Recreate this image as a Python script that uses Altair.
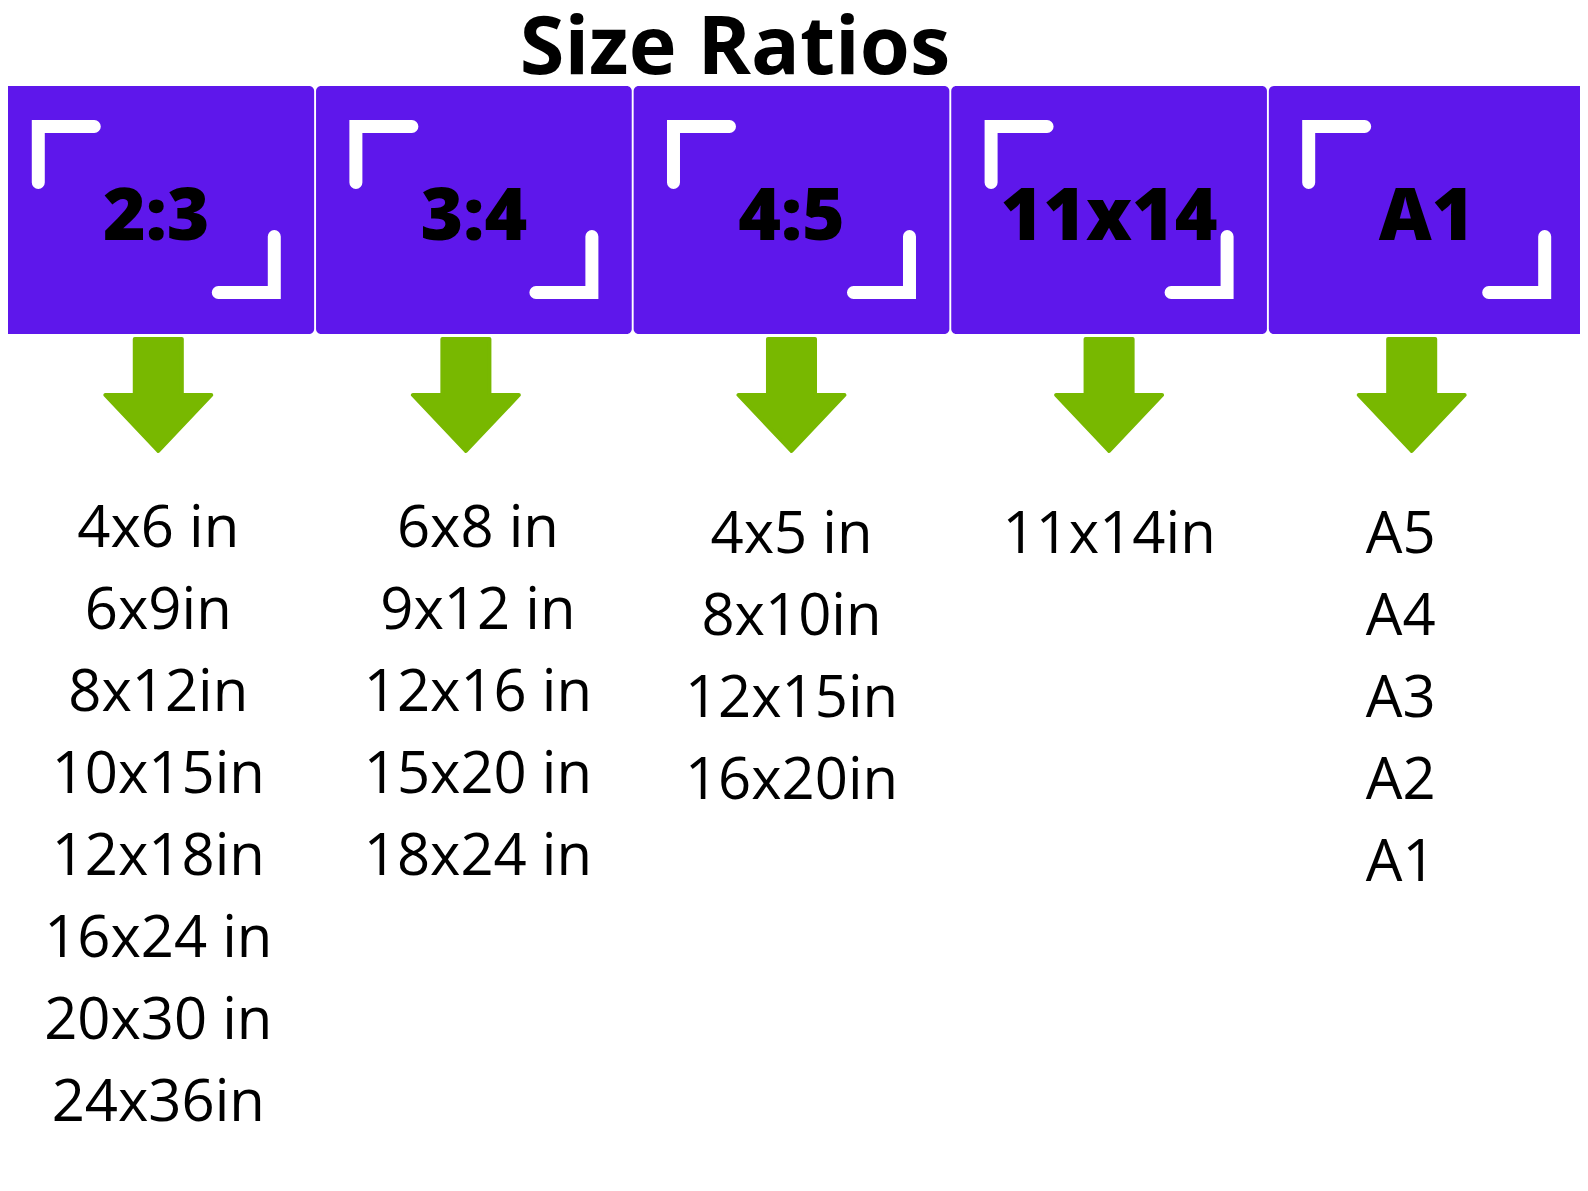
import pandas as pd
import altair as alt

# Header ratios, one per column
ratios = ["2:3", "3:4", "4:5", "11x14", "A1"]

# Print sizes listed under each ratio
sizes_2_3 = ["4x6 in", "6x9in", "8x12in", "10x15in", "12x18in", "16x24 in", "20x30 in", "24x36in"]
sizes_3_4 = ["6x8 in", "9x12 in", "12x16 in", "15x20 in", "18x24 in"]
sizes_4_5 = ["4x5 in", "8x10in", "12x15in", "16x20in"]
sizes_11_14 = ["11x14in"]
sizes_a = ["A5", "A4", "A3", "A2", "A1"]

title_text = "Size Ratios"

columns = [sizes_2_3, sizes_3_4, sizes_4_5, sizes_11_14, sizes_a]

header_df = pd.DataFrame({"col": range(len(ratios)), "ratio": ratios})
header_df["x0"] = header_df["col"] - 0.497
header_df["x1"] = header_df["col"] + 0.497

rows = []
for c, items in enumerate(columns):
    for r, label in enumerate(items):
        rows.append({"col": c, "row": r, "label": label})
sizes_df = pd.DataFrame(rows)

W, H = 1572, 1160
PURPLE = "#5E17EB"
GREEN = "#78B800"
FONT = "Open Sans"

# one column = 317.6 px, first column centred ~148 px into the plot
x_scale = alt.Scale(domain=[-0.4669, 4.4827], nice=False, zero=False)
y_scale = alt.Scale(domain=[-539 / 82, (H - 539) / 82], nice=False, zero=False, reverse=True)

# little per-column nudges seen in the original layout (pixels)
list_nudge = {0: (2, 0), 1: (4, 0), 2: (0, 6), 3: (0, 6), 4: (-26, 6)}
arrow_nudge = {0: 2, 1: -8, 2: 0, 3: 0, 4: -15}

base_h = alt.Chart(header_df)

boxes = base_h.mark_rect(color=PURPLE, cornerRadius=5).encode(
    x=alt.X("x0:Q", scale=x_scale, axis=None),
    x2="x1:Q",
    y=alt.value(78),
    y2=alt.value(326),
)

tl_shape = "M -1 1 L -1 -1 L 1 -1"
br_shape = "M -1 1 L 1 1 L 1 -1"
bracket_style = dict(filled=False, stroke="white", strokeWidth=13, strokeCap="round",
                     strokeJoin="miter", opacity=1, size=3136)

tl = base_h.mark_point(shape=tl_shape, xOffset=-90, **bracket_style).encode(
    x=alt.X("col:Q", scale=x_scale, axis=None), y=alt.value(146.5)
)
br = base_h.mark_point(shape=br_shape, xOffset=90, **bracket_style).encode(
    x=alt.X("col:Q", scale=x_scale, axis=None), y=alt.value(256.5)
)

header_text = base_h.mark_text(
    font=FONT, fontSize=73, fontWeight=800, color="black", baseline="alphabetic", align="center"
).encode(
    x=alt.X("col:Q", scale=x_scale, axis=None),
    y=alt.value(232),
    text="ratio:N",
)

arrow_shape = "M -0.42 -1 L 0.42 -1 L 0.42 0 L 0.946 0 L 0 1 L -0.946 0 L -0.42 0 Z"
arrows = []
for c, off in arrow_nudge.items():
    arrows.append(
        base_h.transform_filter(alt.datum.col == c).mark_point(
            shape=arrow_shape, filled=True, color=GREEN, stroke=GREEN, strokeWidth=4,
            strokeJoin="round", opacity=1, size=12544, xOffset=off
        ).encode(x=alt.X("col:Q", scale=x_scale, axis=None), y=alt.value(387))
    )

lists = []
for c, (ddx, ddy) in list_nudge.items():
    lists.append(
        alt.Chart(sizes_df).transform_filter(alt.datum.col == c).mark_text(
            font=FONT, fontSize=58, fontWeight=400, color="black",
            baseline="alphabetic", align="center", dx=ddx, dy=ddy
        ).encode(
            x=alt.X("col:Q", scale=x_scale, axis=None),
            y=alt.Y("row:Q", scale=y_scale, axis=None),
            text="label:N",
        )
    )

title = alt.Chart(pd.DataFrame({"t": [title_text]})).mark_text(
    font=FONT, fontSize=81, fontWeight="bold", color="black", baseline="alphabetic", align="center"
).encode(x=alt.value(727), y=alt.value(66), text="t:N")

chart = alt.layer(boxes, tl, br, header_text, *arrows, *lists, title).properties(
    width=W,
    height=H,
    autosize=alt.AutoSizeParams(type="none"),
    padding=0,
    background="white",
).configure_view(strokeWidth=0)

chart.save("out.html", embed_options={"renderer": "svg", "actions": False})
